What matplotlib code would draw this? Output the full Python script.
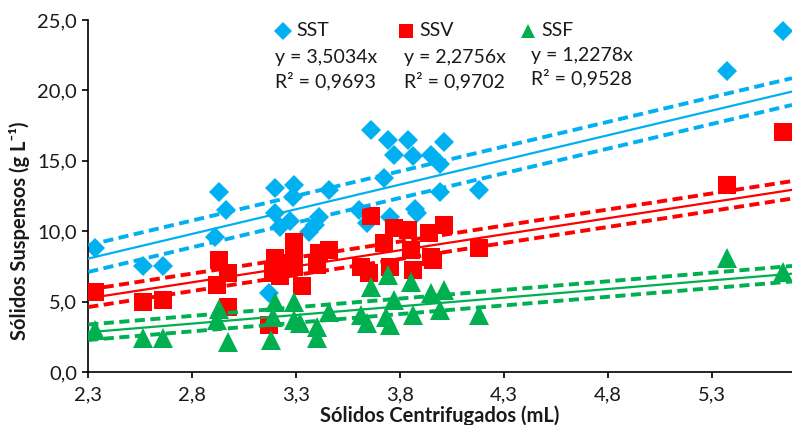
import numpy as np
import matplotlib
matplotlib.use("Agg")
import matplotlib.pyplot as plt
from matplotlib.ticker import FuncFormatter

plt.rcParams['font.family'] = ['Lato', 'DejaVu Sans']

# data
sst_x = [2.33, 2.565, 2.66, 2.91, 2.93, 2.96, 3.17, 3.20, 3.20, 3.22, 3.27, 3.285,
         3.29, 3.36, 3.39, 3.41, 3.46, 3.60, 3.64, 3.66, 3.72, 3.74, 3.75, 3.77,
         3.84, 3.86, 3.87, 3.88, 3.95, 3.99, 3.99, 4.01, 4.18, 5.37, 5.64]
sst_y = [8.8, 7.55, 7.5, 9.6, 12.75, 11.5, 5.6, 13.05, 11.3, 10.3, 10.7, 12.45,
         13.3, 9.96, 10.45, 11.0, 12.9, 11.5, 10.56, 17.2, 13.75, 16.45, 11.0, 15.4,
         16.45, 15.35, 11.6, 11.3, 15.4, 14.8, 12.8, 16.3, 12.9, 21.4, 24.25]

ssv_x = [2.33, 2.565, 2.66, 2.92, 2.93, 2.97, 2.97, 3.17, 3.19, 3.20, 3.21, 3.22,
         3.29, 3.29, 3.29, 3.33, 3.40, 3.41, 3.46, 3.61, 3.65, 3.66, 3.72, 3.75,
         3.77, 3.84, 3.85, 3.86, 3.94, 3.95, 3.96, 4.01, 4.18, 5.37, 5.64]
ssv_y = [5.7, 5.0, 5.1, 6.2, 7.95, 7.0, 4.65, 3.35, 7.0, 8.07, 7.72, 6.8,
         9.25, 8.2, 7.48, 6.1, 7.6, 8.43, 8.66, 7.48, 7.0, 11.07, 9.14, 7.48,
         10.2, 10.1, 8.66, 7.24, 9.85, 8.19, 7.95, 10.44, 8.79, 13.28, 17.07]

ssf_x = [2.33, 2.565, 2.66, 2.92, 2.93, 2.97, 3.18, 3.19, 3.20, 3.29, 3.29, 3.32,
         3.40, 3.40, 3.46, 3.61, 3.64, 3.66, 3.73, 3.74, 3.75, 3.77, 3.85, 3.86,
         3.95, 3.99, 4.01, 4.18, 5.37, 5.64]
ssf_y = [3.0, 2.4, 2.4, 3.7, 4.5, 2.15, 2.27, 3.93, 5.0, 5.0, 3.69, 3.48,
         3.22, 2.39, 4.28, 4.05, 3.46, 6.06, 3.93, 6.89, 3.34, 5.11, 6.41, 4.05,
         5.59, 4.4, 5.82, 4.05, 8.1, 7.12]

names = ['SST', 'SSV', 'SSF']
slopes = [3.5034, 2.2756, 1.2278]
r2 = ['0,9693', '0,9702', '0,9528']
band = [0.95, 0.62, 0.55]  # half width of dashed lines
colors = ['#00B0F0', '#FF0000', '#00B050']
markers = ['D', 's', '^']
msizes = [10.5, 13.5, 14]
xs = [sst_x, ssv_x, ssf_x]
ys = [sst_y, ssv_y, ssf_y]

X_MIN, X_MAX = 2.3, 5.685

fig = plt.figure(figsize=(7.92, 4.25), dpi=100)
ax = fig.add_axes([88.3 / 792, 1 - 372 / 425, 1 - 88.3 / 792, 352 / 425])

for i in range(3):
    ax.plot(xs[i], ys[i], linestyle='none', marker=markers[i], ms=msizes[i],
            color=colors[i], markeredgewidth=0, zorder=2 + i)

xl = np.linspace(X_MIN, X_MAX, 50)
for i in range(3):
    ax.plot(xl, slopes[i] * xl, color=colors[i], lw=1.6, zorder=6)
    for s in (1, -1):
        ax.plot(xl, slopes[i] * xl + s * band[i], color=colors[i], lw=2.8,
                dashes=(2.6, 1.4), zorder=6)

ax.set_xlim(X_MIN, X_MAX)
ax.set_ylim(0, 25)
ax.set_xticks(np.arange(2.3, 5.4, 0.5))
ax.set_yticks(np.arange(0, 26, 5))
ax.xaxis.set_major_formatter(FuncFormatter(lambda v, p: f'{v:.1f}'.replace('.', ',')))
ax.yaxis.set_major_formatter(FuncFormatter(lambda v, p: f'{v:.1f}'.replace('.', ',')))
ax.tick_params(direction='out', length=4, width=1.2, labelsize=14.5,
               labelcolor='#1a1a1a', color='black')
ax.tick_params(axis='x', pad=6)
ax.tick_params(axis='y', pad=4)
ax.spines['top'].set_visible(False)
ax.spines['right'].set_visible(False)
for sp in ('left', 'bottom'):
    ax.spines[sp].set_linewidth(1.2)

fig.text(440 / 792, 1 - 416 / 425, 'Sólidos Centrifugados (mL)', ha='center',
         va='center', fontsize=14.5, fontweight='bold', color='#1a1a1a')
fig.text(20 / 792, 1 - 231 / 425, 'Sólidos Suspensos (g L⁻¹)',
         ha='center', va='center', rotation=90, fontsize=14.5,
         fontweight='bold', color='#1a1a1a')

# legend-like annotation block
leg_x = [283, 406, 528]
eq_x = [275, 404, 531]
eq_y = [58, 58, 56]
r_y = [81, 81, 78]
leg_ms = [9, 9.5, 10]
for i in range(3):
    fig.lines.append(plt.Line2D([leg_x[i] / 792], [1 - 31 / 425],
                                transform=fig.transFigure, marker=markers[i],
                                ms=leg_ms[i], color=colors[i], mew=0,
                                linestyle='none'))
    fig.text((leg_x[i] + 13) / 792, 1 - 31 / 425, names[i], ha='left',
             va='center', fontsize=14, color='#1a1a1a')
    fig.text(eq_x[i] / 792, 1 - eq_y[i] / 425,
             f'y = {slopes[i]:.4f}x'.replace('.', ','), ha='left', va='center',
             fontsize=14, color='#1a1a1a')
    fig.text(eq_x[i] / 792, 1 - r_y[i] / 425, f'R² = {r2[i]}', ha='left',
             va='center', fontsize=14, color='#1a1a1a')

fig.savefig('out.png', dpi=100)
